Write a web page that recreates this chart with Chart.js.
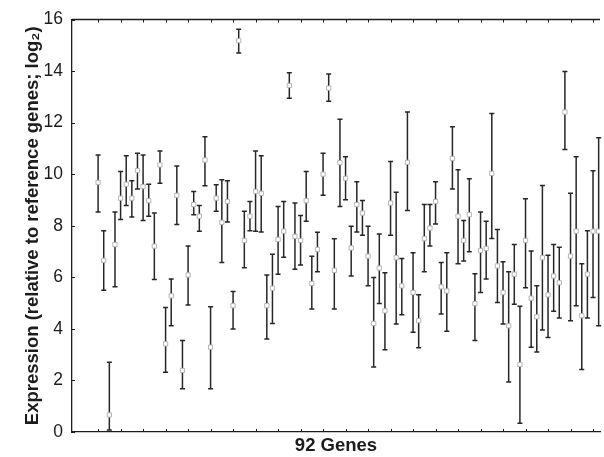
<!DOCTYPE html>
<html>
<head>
<meta charset="utf-8">
<script src="https://cdn.jsdelivr.net/npm/chart.js@4/dist/chart.umd.min.js"></script>
<style>
  html, body { margin: 0; padding: 0; background: #fff; overflow: hidden; }
</style>
</head>
<body>
<canvas id="genesChart" width="604" height="457"></canvas>
<script>
"use strict";
// mean expression per gene (log2, relative to reference genes)
var expressionValues = [
  9.68, 6.66, 0.66, 7.27, 9.07, 9.61, 9.07, 10.14, 9.52, 8.97,
  7.21, 10.36, 3.42, 5.28, 9.18, 2.39, 6.09, 8.82, 8.37, 10.55,
  3.29, 9.07, 8.13, 8.94, 4.90, 15.18, 7.43, 8.37, 9.33, 9.26,
  4.90, 5.58, 7.47, 7.79, 13.44, 7.59, 7.43, 8.97, 5.76, 7.08,
  10.00, 13.34, 6.27, 10.45, 9.84, 7.14, 8.82, 8.49, 6.82, 4.21,
  6.36, 4.70, 8.88, 6.76, 5.67, 10.46, 5.41, 4.32, 7.50, 7.91,
  8.94, 5.63, 5.47, 10.61, 8.37, 7.43, 8.43, 4.98, 7.04, 7.12,
  10.03, 6.44, 5.41, 4.12, 6.12, 2.62, 7.43, 5.19, 4.47, 6.76,
  5.32, 6.05, 5.79, 12.41, 6.82, 7.79, 4.51, 6.12, 7.79, 7.79
];
var upperBound = [
  10.74, 7.81, 2.71, 8.53, 10.10, 10.72, 9.75, 10.81, 10.74, 9.61,
  8.49, 10.90, 4.83, 5.93, 10.32, 3.55, 7.21, 9.33, 8.79, 11.45,
  4.86, 9.59, 9.78, 9.75, 5.45, 15.62, 8.56, 8.94, 10.90, 10.72,
  6.09, 6.89, 8.75, 8.94, 13.93, 8.88, 8.40, 10.10, 6.82, 7.75,
  10.81, 13.89, 7.50, 12.13, 10.68, 7.98, 9.71, 8.98, 7.98, 5.99,
  7.68, 6.18, 10.49, 9.30, 6.73, 12.41, 6.95, 5.32, 8.82, 8.82,
  9.71, 6.57, 6.95, 11.84, 10.17, 8.20, 9.82, 6.14, 8.53, 8.17,
  12.35, 7.85, 6.60, 6.22, 7.27, 4.88, 9.05, 7.02, 5.67, 9.56,
  6.86, 7.27, 7.17, 13.98, 9.26, 10.68, 6.53, 7.81, 10.13, 11.41
];
var lowerBound = [
  8.53, 5.50, 0.08, 5.63, 8.24, 8.79, 8.34, 9.43, 8.20, 8.37,
  5.92, 9.65, 2.32, 4.12, 8.05, 1.68, 4.93, 8.43, 7.79, 9.55,
  1.68, 8.56, 6.57, 8.15, 4.00, 14.70, 6.37, 7.81, 7.79, 7.76,
  3.61, 4.21, 6.12, 6.78, 12.95, 6.31, 6.48, 8.17, 4.77, 6.22,
  9.18, 12.83, 4.77, 8.75, 9.01, 6.05, 7.76, 7.63, 5.67, 2.52,
  4.98, 3.19, 7.63, 4.19, 4.55, 8.59, 3.87, 3.27, 6.22, 7.21,
  8.07, 4.58, 3.91, 9.43, 6.53, 6.63, 6.99, 3.55, 5.41, 5.93,
  7.51, 5.02, 4.19, 1.94, 4.96, 0.34, 5.60, 3.29, 3.10, 3.96,
  3.67, 4.68, 4.42, 10.96, 4.32, 4.90, 2.42, 4.42, 5.22, 4.12
];
var geneIndex = expressionValues.map((_, i) => i + 1);
var yTickValues = [0, 2, 4, 6, 8, 10, 12, 14, 16];
var xTickGenes = [1, 5, 9, 13, 17, 21, 25, 29, 33, 37, 41, 45, 49, 53, 57, 61, 65, 69, 73, 77, 81, 85, 89];

var inkColor = "#1c1c1c";
var barColor = "#262626";
var fontFamily = "'Liberation Sans', Arial, Helvetica, sans-serif";

// error bars go under the square markers; frame top line and inward ticks on top
var errorBarPlugin = {
  id: "errorBars",
  beforeDatasetsDraw(chart) {
    const { ctx, chartArea, scales } = chart;
    const x = scales.x, y = scales.y;
    ctx.save();
    ctx.beginPath();
    ctx.rect(chartArea.left, chartArea.top - 2, chartArea.width + 4, chartArea.height + 4);
    ctx.clip();
    ctx.strokeStyle = barColor;
    ctx.lineWidth = 1.5;
    geneIndex.forEach((gene, i) => {
      const px = x.getPixelForValue(gene);
      const top = y.getPixelForValue(upperBound[i]);
      const bottom = y.getPixelForValue(lowerBound[i]);
      ctx.beginPath();
      ctx.moveTo(px, top); ctx.lineTo(px, bottom);
      ctx.moveTo(px - 2.5, top); ctx.lineTo(px + 2.5, top);
      ctx.moveTo(px - 2.5, bottom); ctx.lineTo(px + 2.5, bottom);
      ctx.stroke();
    });
    ctx.restore();
  },
  afterDraw(chart) {
    const { ctx, chartArea, scales } = chart;
    ctx.save();
    ctx.strokeStyle = inkColor;
    ctx.lineWidth = 1.3;
    ctx.beginPath();
    ctx.moveTo(chartArea.left, chartArea.top);
    ctx.lineTo(chartArea.right, chartArea.top);
    ctx.stroke();
    ctx.lineWidth = 1;
    ctx.beginPath();
    yTickValues.forEach((v) => {
      const py = Math.round(scales.y.getPixelForValue(v)) + 0.5;
      ctx.moveTo(chartArea.left, py); ctx.lineTo(chartArea.left + 3, py);
    });
    xTickGenes.forEach((g) => {
      const px = Math.round(scales.x.getPixelForValue(g)) + 0.5;
      ctx.moveTo(px, chartArea.top); ctx.lineTo(px, chartArea.top + 3);
      ctx.moveTo(px, chartArea.bottom); ctx.lineTo(px, chartArea.bottom - 3);
    });
    ctx.stroke();
    ctx.restore();
  }
};

new Chart(document.getElementById("genesChart"), {
  type: "scatter",
  data: {
    datasets: [{
      label: "Expression",
      data: geneIndex.map((gene, i) => ({ x: gene, y: expressionValues[i] })),
      pointStyle: "rect",
      pointRadius: 3,
      pointBackgroundColor: "#ffffff",
      pointBorderColor: "#b5b5b5",
      pointBorderWidth: 1,
      pointHoverRadius: 3
    }]
  },
  options: {
    responsive: false,
    devicePixelRatio: 1,
    animation: false,
    layout: { padding: { top: 17, right: 0, bottom: 0, left: 0 } },
    plugins: { legend: { display: false }, tooltip: { enabled: false } },
    scales: {
      x: {
        type: "linear",
        min: -3.64,
        max: 90.24,
        grid: { display: false, drawTicks: false },
        border: { display: true, color: inkColor, width: 1.3 },
        ticks: { display: false },
        title: {
          display: true,
          text: "92 Genes",
          color: inkColor,
          font: { family: fontFamily, size: 18.5, weight: "bold" },
          padding: 0
        },
        afterFit: (scale) => { scale.height = 25; }
      },
      y: {
        min: 0,
        max: 16,
        grid: { display: false, drawTicks: false },
        border: { display: true, color: inkColor, width: 1.3 },
        ticks: {
          stepSize: 2,
          padding: 9,
          color: inkColor,
          font: { family: fontFamily, size: 17.5 }
        },
        title: {
          display: true,
          text: "Expression (relative to reference genes; log\u2082)",
          color: inkColor,
          font: { family: fontFamily, size: 18.5, weight: "bold" },
          padding: { top: 22, bottom: 0 }
        },
        afterFit: (scale) => { scale.width = 72; }
      }
    }
  },
  plugins: [errorBarPlugin]
});
</script>
</body>
</html>
